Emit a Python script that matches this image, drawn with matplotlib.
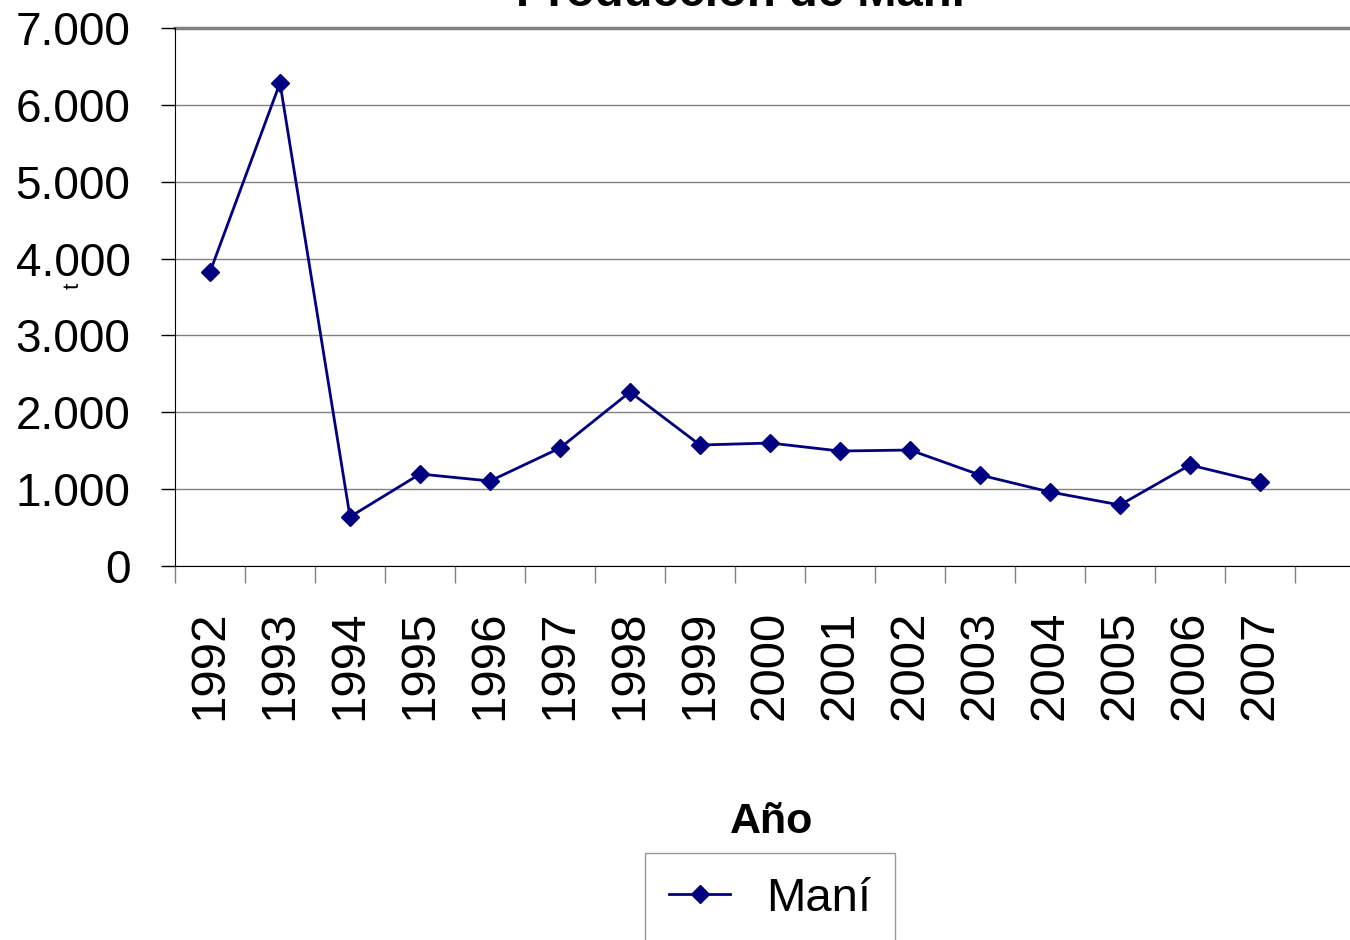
import numpy as np
import matplotlib
matplotlib.use("Agg")
import matplotlib.pyplot as plt
from matplotlib.ticker import FuncFormatter, MultipleLocator

plt.rcParams["font.family"] = ["Liberation Sans", "DejaVu Sans"]

# data (t per year)
years = ["1992", "1993", "1994", "1995", "1996", "1997", "1998", "1999",
         "2000", "2001", "2002", "2003", "2004", "2005", "2006", "2007"]
mani = [3825, 6285, 640, 1197, 1106, 1535, 2264, 1574,
        1600, 1496, 1509, 1184, 963, 794, 1314, 1093]

W, H = 1350, 940
fig = plt.figure(figsize=(W / 100, H / 100), dpi=100)
ax = fig.add_axes([175 / W, 1 - 566 / H, (1350 - 175) / W, (566 - 28) / H])

x = np.arange(len(years))
ax.plot(x, mani, color="#000080", lw=2, marker="D", ms=9, mfc="#000080", mec="#000080",
        label="Maní", zorder=3)

ax.set_xlim(-0.5, -0.5 + (1350 - 175) / 70)
ax.set_ylim(0, 7000)

# y axis: thousands with dot separator, gray gridlines
ax.yaxis.set_major_locator(MultipleLocator(1000))
ax.yaxis.set_major_formatter(FuncFormatter(lambda v, p: f"{int(v):,}".replace(",", ".")))
ax.grid(axis="y", color="#808080", lw=1)
ax.set_axisbelow(True)
ax.tick_params(axis="y", direction="out", length=10, width=1, pad=22, labelsize=33)

# x axis: labels at category centres, ticks at the boundaries
ax.set_xticks(x)
ax.set_xticklabels(years, rotation=90, va="top")
ax.set_xticks(np.arange(len(years) + 1) - 0.5, minor=True)
ax.tick_params(axis="x", which="major", length=0, pad=32, labelsize=35.5)
ax.tick_params(axis="x", which="minor", direction="out", length=12, width=1, color="#808080")

for s in ("top", "right"):
    ax.spines[s].set_visible(False)
ax.spines["left"].set_color("black")
ax.spines["bottom"].set_color("black")
ax.axhline(7000, color="#808080", lw=2.5, zorder=0, clip_on=False)

# title (cut off at the top of the picture, as in the reference), axis labels
fig.text(740 / W, 1 - 6 / H, "Producción de Maní", ha="center", va="baseline",
         fontsize=34, fontweight="bold")
fig.text(772 / W, 1 - 822 / H, "Año", ha="center", va="center", fontsize=31, fontweight="bold")
fig.text(73 / W, 1 - 286 / H, "t", ha="center", va="center", rotation=90, fontsize=16)

leg = fig.legend(loc="upper center", bbox_to_anchor=(770 / W, 1 - 853 / H), fontsize=34,
                 frameon=True, fancybox=False, edgecolor="#808080", handlelength=1.3,
                 handletextpad=0.75, borderpad=0.5, borderaxespad=0)
leg.get_frame().set_linewidth(1)

fig.savefig("out.png", dpi=100)
